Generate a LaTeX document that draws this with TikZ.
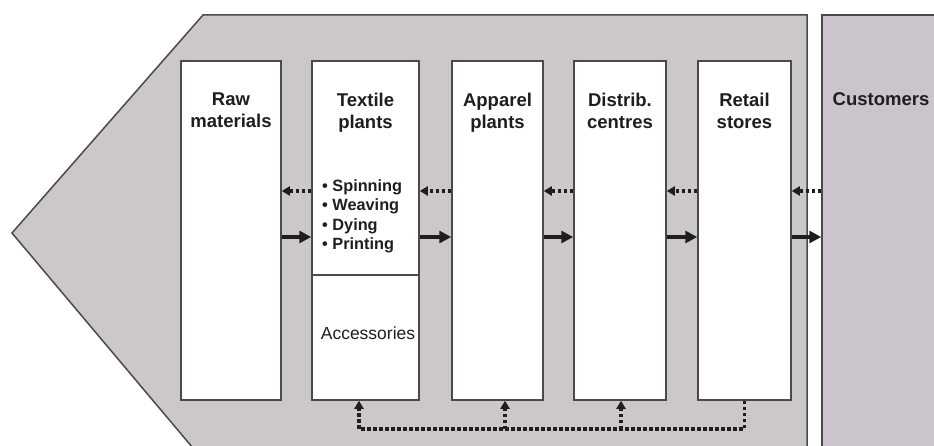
\documentclass[tikz,border=0pt]{standalone}
\usepackage{fontspec}
\setmainfont{Liberation Sans}
\usetikzlibrary{arrows.meta,calc}
\definecolor{shade}{HTML}{CBC7CB}
\definecolor{custshade}{HTML}{CCC4CC}
\definecolor{edge}{HTML}{4A4A4A}
\definecolor{ink}{HTML}{1E1E1E}
\begin{document}
\begin{tikzpicture}[x=1pt,y=-1pt,
  stagebox/.style={draw=edge,line width=1.5pt,fill=white,minimum height=339pt,inner sep=0pt},
  title/.style={font=\fontsize{18.5}{21.5}\selectfont\bfseries,text=ink,align=center,anchor=north,inner sep=0pt},
  solidarr/.style={line width=3.2pt,draw=ink,-{Triangle[length=12pt,width=12pt]}},
  dotarr/.style={line width=3.2pt,draw=ink,dash pattern=on 3.5pt off 2.5pt,-{Triangle[length=8pt,width=9pt]}}]
\useasboundingbox (0,0) rectangle (934,446);
\clip (0,0) rectangle (934,446);
% chevron background
\draw[fill=shade,draw=edge,line width=1.5pt] (203,15) -- (807,15) -- (807,460) -- (203,460) -- (12,233) -- cycle;
% customers block
\node[draw=edge,line width=1.5pt,fill=custshade,minimum width=130pt,minimum height=460pt,inner sep=0pt] (cust) at (887,245) {};
\node[title] (custt) at (881,92) {Customers};
% stage boxes
\node[stagebox,minimum width=100pt] (raw) at (231,230.5) {};
\node[stagebox,minimum width=107pt] (textile) at (365.5,230.5) {};
\node[stagebox,minimum width=91pt] (apparel) at (497.5,230.5) {};
\node[stagebox,minimum width=92pt] (distrib) at (620,230.5) {};
\node[stagebox,minimum width=93pt] (retail) at (744.5,230.5) {};
\coordinate (divy) at (0,275);
\draw[draw=edge,line width=1.3pt] (textile.west |- divy) -- (textile.east |- divy);
% titles
\node[title] (rawt) at (231,93) {Raw\\materials};
\node[title] (textilet) at (365.5,93) {Textile\\plants};
\node[title] (apparelt) at (497.5,93) {Apparel\\plants};
\node[title] (distribt) at (620,93) {Distrib.\\centres};
\node[title] (retailt) at (744.5,93) {Retail\\stores};
\node[font=\fontsize{16.3}{19.6}\selectfont\bfseries,text=ink,align=left,anchor=north west,inner sep=0pt] (steps) at (322,179) {• Spinning\\• Weaving\\• Dying\\• Printing};
\node[font=\fontsize{17.5}{20}\selectfont,text=ink,inner sep=0pt] (acc) at (368,333) {Accessories};
% forward (solid) flows
\draw[solidarr] ([yshift=-6.5pt]raw.east) -- ([yshift=-6.5pt]textile.west);
\draw[solidarr] ([yshift=-6.5pt]textile.east) -- ([yshift=-6.5pt]apparel.west);
\draw[solidarr] ([yshift=-6.5pt]apparel.east) -- ([yshift=-6.5pt]distrib.west);
\draw[solidarr] ([yshift=-6.5pt]distrib.east) -- ([yshift=-6.5pt]retail.west);
\draw[solidarr] ([yshift=-6.5pt]retail.east) -- (cust.west |- 0,237);
% backward (dotted) flows
\draw[dotarr] (cust.west |- 0,191) -- ([yshift=39.5pt]retail.east);
\draw[dotarr] ([yshift=39.5pt]retail.west) -- ([yshift=39.5pt]distrib.east);
\draw[dotarr] ([yshift=39.5pt]distrib.west) -- ([yshift=39.5pt]apparel.east);
\draw[dotarr] ([yshift=39.5pt]apparel.west) -- ([yshift=39.5pt]textile.east);
\draw[dotarr] ([yshift=39.5pt]textile.west) -- ([yshift=39.5pt]raw.east);
% feedback loop
\coordinate (fb) at (0,429);
\draw[dotarr] (retail.south) -- (retail.south |- fb) -| ([xshift=-6.5pt]textile.south);
\draw[dotarr] ([xshift=7.5pt]apparel.south |- fb) -- ([xshift=7.5pt]apparel.south);
\draw[dotarr] ([xshift=1pt]distrib.south |- fb) -- ([xshift=1pt]distrib.south);
\end{tikzpicture}
\end{document}
